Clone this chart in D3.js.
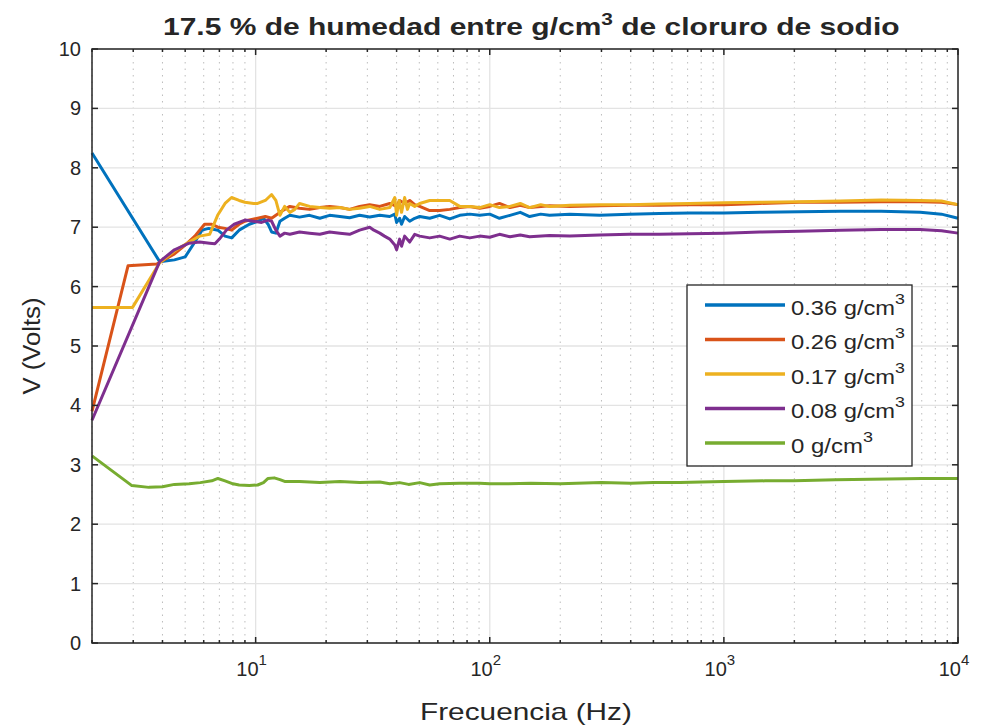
<!DOCTYPE html>
<html><head><meta charset="utf-8">
<script src="https://cdn.jsdelivr.net/npm/d3@7"></script>
<style>
body{margin:0;background:#fff;}
text{font-family:"Liberation Sans",Arial,sans-serif;fill:#262626;}
</style></head>
<body><svg id="c" width="983" height="728"></svg>
<script>
const seriesNames = ["0.36 g/cm", "0.26 g/cm", "0.17 g/cm", "0.08 g/cm", "0 g/cm"];
const seriesColors = ["#0072BD", "#D95319", "#EDB120", "#7E2F8E", "#77AC30"];
const yTicks = [0,1,2,3,4,5,6,7,8,9,10];
const xMajorExp = [1,2,3,4];

const s036 = [[2,8.25],[3.89,6.42],[4.5,6.45],[5.0,6.5],[5.5,6.75],[5.9,6.95],[6.3,6.98],[6.9,6.95],[7.4,6.85],[7.9,6.82],[8.5,6.95],[9.4,7.05],[10.2,7.1],[10.8,7.15],[11.3,7.05],[11.7,6.92],[12.2,6.9],[12.7,7.1],[13.3,7.15],[14.0,7.2],[15.4,7.17],[17,7.2],[18.8,7.15],[20.7,7.2],[22.9,7.18],[25.2,7.16],[27.8,7.2],[30.7,7.17],[33.9,7.2],[37.4,7.18],[39.3,7.22],[40,7.08],[41.2,7.15],[42,7.05],[43.3,7.18],[45.5,7.1],[47.8,7.15],[50.2,7.18],[55.4,7.15],[61.1,7.2],[67.5,7.14],[74.4,7.2],[82.2,7.22],[90.6,7.2],[100,7.22],[110,7.15],[122,7.2],[135,7.25],[148,7.18],[165,7.22],[180,7.2],[220,7.22],[295,7.2],[395,7.22],[530,7.23],[715,7.24],[1000,7.24],[1425,7.25],[2100,7.26],[3140,7.27],[4700,7.27],[6900,7.25],[8500,7.22],[10000,7.15]];
const s026 = [[2,3.9],[2.85,6.35],[3.78,6.38],[4.5,6.55],[5.0,6.7],[5.5,6.85],[6.05,7.05],[6.5,7.05],[6.9,7.0],[7.4,6.98],[7.9,6.95],[8.5,7.05],[9.0,7.1],[9.4,7.12],[10.2,7.15],[11.0,7.18],[11.7,7.15],[12.2,7.2],[12.7,7.25],[13.3,7.3],[14,7.35],[15.4,7.32],[17,7.3],[18.8,7.33],[20.7,7.35],[22.9,7.33],[25.2,7.3],[27.8,7.35],[30.7,7.38],[33.9,7.35],[37.4,7.4],[40,7.35],[41.2,7.45],[43.3,7.4],[45.5,7.45],[47.8,7.38],[50.2,7.35],[55.4,7.28],[61.1,7.28],[67.5,7.3],[74.4,7.33],[82.2,7.35],[90.6,7.32],[100,7.35],[110,7.4],[122,7.33],[135,7.37],[148,7.33],[180,7.36],[220,7.35],[295,7.36],[395,7.37],[530,7.37],[715,7.38],[1000,7.38],[1425,7.4],[2100,7.42],[3140,7.42],[4700,7.43],[6900,7.43],[8500,7.42],[10000,7.38]];
const s017 = [[2,5.65],[2.98,5.65],[3.89,6.4],[4.5,6.6],[5.2,6.75],[5.77,6.85],[6.36,6.88],[6.88,7.2],[7.4,7.4],[7.89,7.5],[8.5,7.45],[9.0,7.42],[9.8,7.4],[10.2,7.4],[11.0,7.45],[11.7,7.55],[12.2,7.45],[12.7,7.2],[13.3,7.35],[14,7.25],[14.7,7.3],[15.4,7.4],[17,7.35],[18.8,7.33],[20.7,7.32],[22.9,7.33],[25.2,7.3],[27.8,7.32],[30.7,7.35],[33.9,7.3],[37.4,7.33],[39.3,7.5],[40,7.2],[41,7.45],[42,7.25],[43.3,7.5],[44.5,7.3],[45.5,7.4],[47.8,7.35],[50.2,7.4],[55.4,7.45],[61.1,7.45],[67.5,7.45],[74.4,7.35],[82.2,7.35],[90.6,7.33],[100,7.38],[110,7.33],[122,7.35],[135,7.4],[148,7.33],[165,7.38],[180,7.35],[220,7.37],[295,7.38],[395,7.38],[530,7.39],[715,7.4],[1000,7.41],[1425,7.42],[2100,7.43],[3140,7.44],[4700,7.46],[6900,7.45],[8500,7.44],[10000,7.38]];
const s008 = [[2,3.75],[3.89,6.42],[4.5,6.62],[5.2,6.73],[5.77,6.75],[6.36,6.73],[6.7,6.72],[7.0,6.8],[7.5,6.95],[8.1,7.05],[9.0,7.12],[9.8,7.1],[10.6,7.08],[11.3,7.12],[11.7,7.1],[12.2,6.95],[12.7,6.85],[13.3,6.9],[14,6.88],[15.4,6.92],[17,6.9],[18.8,6.88],[20.7,6.92],[22.9,6.9],[25.2,6.88],[27.8,6.95],[30.7,7.0],[32,6.95],[33.9,6.9],[35.5,6.85],[37.4,6.8],[39.3,6.7],[40,6.62],[41.2,6.8],[42,6.68],[43.3,6.85],[45.5,6.75],[47.8,6.88],[50.2,6.85],[55.4,6.82],[61.1,6.85],[67.5,6.8],[74.4,6.85],[82.2,6.82],[90.6,6.85],[100,6.83],[110,6.88],[122,6.84],[135,6.87],[148,6.84],[180,6.86],[220,6.85],[295,6.87],[395,6.88],[530,6.88],[715,6.89],[1000,6.9],[1425,6.92],[2100,6.93],[3140,6.95],[4700,6.96],[6900,6.96],[8500,6.94],[10000,6.9]];
const s000 = [[2,3.15],[2.96,2.65],[3.5,2.62],[4.0,2.63],[4.5,2.67],[5.2,2.68],[5.8,2.7],[6.5,2.73],[6.9,2.77],[7.4,2.73],[8.0,2.68],[8.5,2.66],[9.4,2.65],[10.2,2.66],[10.8,2.7],[11.3,2.77],[12.0,2.78],[12.7,2.75],[13.3,2.72],[15.4,2.72],[18.8,2.7],[22.9,2.72],[27.8,2.7],[33.9,2.71],[37.4,2.68],[41.2,2.7],[45,2.67],[50.2,2.7],[55.4,2.66],[61.1,2.68],[74.4,2.69],[90.6,2.69],[100,2.68],[120,2.68],[150,2.69],[200,2.68],[300,2.7],[400,2.69],[500,2.7],[650,2.7],[800,2.71],[1000,2.72],[1500,2.73],[2000,2.73],[3000,2.75],[5000,2.76],[7000,2.77],[10000,2.77]];
const allSeries = [s036, s026, s017, s008, s000];

const L=92, R=958, T=49, B=643;
const svg = d3.select("#c");
const x = d3.scaleLog().domain([2,10000]).range([L,R]);
const y = d3.scaleLinear().domain([0,10]).range([B,T]);

// stretch a text element horizontally so it spans [left, left+width]
function fit(sel, left, width){
  const bb = sel.node().getBBox();
  const k = width / bb.width;
  sel.attr("transform", `translate(${left - bb.x*k},0) scale(${k},1)`);
}

const minor = [];
for (let e=0;e<4;e++) for (let m=2;m<=9;m++){ const v=m*Math.pow(10,e); if (v>=2 && v<10000 && v!==10) minor.push(v); }
const major = xMajorExp.map(e=>Math.pow(10,e));

const g = svg.append("g");
g.selectAll(".mg").data(minor).enter().append("line")
 .attr("x1",d=>x(d)).attr("x2",d=>x(d)).attr("y1",T).attr("y2",B)
 .attr("stroke","#bdbdbd").attr("stroke-width",1).attr("stroke-dasharray","1.5,5");
g.selectAll(".Mg").data(major).enter().append("line")
 .attr("x1",d=>x(d)).attr("x2",d=>x(d)).attr("y1",T).attr("y2",B)
 .attr("stroke","#e3e3e3").attr("stroke-width",1.3);
g.selectAll(".yg").data(yTicks).enter().append("line")
 .attr("x1",L).attr("x2",R).attr("y1",d=>y(d)).attr("y2",d=>y(d))
 .attr("stroke","#e3e3e3").attr("stroke-width",1.3);

const line = d3.line().x(d=>x(d[0])).y(d=>y(d[1]));
allSeries.forEach((s,i)=>{
  g.append("path").datum(s).attr("d",line).attr("fill","none")
   .attr("stroke",seriesColors[i]).attr("stroke-width",3).attr("stroke-linejoin","round");
});

g.append("rect").attr("x",L).attr("y",T).attr("width",R-L).attr("height",B-T)
 .attr("fill","none").attr("stroke","#262626").attr("stroke-width",1.5);

const tk = g.append("g").attr("stroke","#262626").attr("stroke-width",1.5);
minor.forEach(v=>{
  tk.append("line").attr("x1",x(v)).attr("x2",x(v)).attr("y1",B).attr("y2",B-3);
  tk.append("line").attr("x1",x(v)).attr("x2",x(v)).attr("y1",T).attr("y2",T+3);
});
major.forEach(v=>{
  tk.append("line").attr("x1",x(v)).attr("x2",x(v)).attr("y1",B).attr("y2",B-6);
  tk.append("line").attr("x1",x(v)).attr("x2",x(v)).attr("y1",T).attr("y2",T+6);
});
yTicks.forEach(v=>{
  tk.append("line").attr("x1",L).attr("x2",L+6).attr("y1",y(v)).attr("y2",y(v));
  tk.append("line").attr("x1",R).attr("x2",R-6).attr("y1",y(v)).attr("y2",y(v));
});

g.selectAll(".yl").data(yTicks).enter().append("text")
 .attr("x",L-11).attr("y",d=>y(d)+7).attr("text-anchor","end")
 .attr("font-size",20).text(d=>d);

xMajorExp.forEach(e=>{
  const t = g.append("text").attr("x",x(Math.pow(10,e))-4).attr("y",B+33)
    .attr("text-anchor","middle").attr("font-size",20);
  t.append("tspan").text("10");
  t.append("tspan").attr("dy",-11).attr("font-size",15).text(e);
});

const title = svg.append("text").attr("x",0).attr("y",35)
 .attr("font-size",23).attr("font-weight","bold");
title.append("tspan").text("17.5 % de humedad entre g/cm");
title.append("tspan").attr("dy",-10).attr("font-size",16).text("3");
title.append("tspan").attr("dy",10).text(" de cloruro de sodio");
fit(title, 163, 737);

const xl = svg.append("text").attr("x",0).attr("y",720).attr("font-size",23).text("Frecuencia (Hz)");
fit(xl, 420, 212);
svg.append("text").attr("transform","translate(40,346) rotate(-90)").attr("text-anchor","middle")
 .attr("font-size",23).attr("textLength",97).attr("lengthAdjust","spacingAndGlyphs").text("V (Volts)");

const lg = svg.append("g");
lg.append("rect").attr("x",687).attr("y",285).attr("width",225).attr("height",181)
 .attr("fill","#fff").attr("stroke","#262626").attr("stroke-width",1.3);
seriesNames.forEach((n,i)=>{
  const yy = 305 + i*34.5;
  lg.append("line").attr("x1",705).attr("x2",785).attr("y1",yy).attr("y2",yy)
   .attr("stroke",seriesColors[i]).attr("stroke-width",3.5);
  const t = lg.append("text").attr("x",0).attr("y",yy+10).attr("font-size",20);
  t.append("tspan").text(n);
  t.append("tspan").attr("dy",-11).attr("font-size",15).text("3");
  fit(t, 791, i<4 ? 114 : 82);
});
</script></body></html>
